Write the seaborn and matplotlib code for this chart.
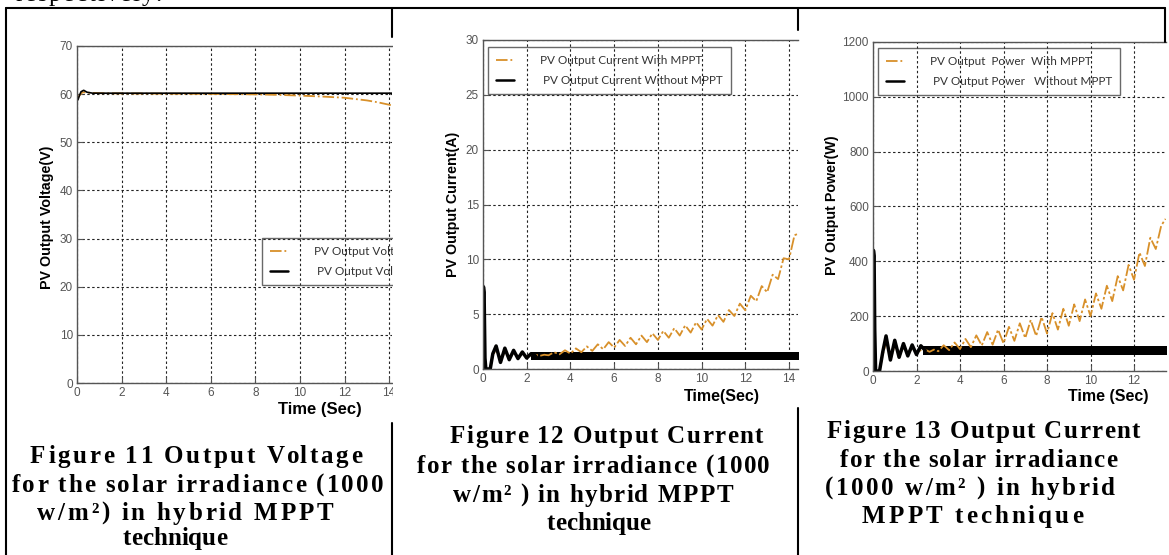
import matplotlib
matplotlib.use("Agg")
import matplotlib.pyplot as plt
import seaborn as sns
from matplotlib.lines import Line2D
from matplotlib.patches import Rectangle
from matplotlib.font_manager import FontProperties

W, H = 1169, 555
ORANGE = "#D8902A"
DASHDOT = (0, (7, 1.4, 1.4, 1.4))

# Figure 11 - PV output voltage (V)
volt_t_mppt = [0.0, 0.05, 0.12, 0.25, 0.5, 1.0, 2.0, 4.0, 6.0, 8.0, 9.0, 10.0, 11.0, 12.0, 13.0, 13.5, 14.0, 14.5]
volt_mppt = [59.0, 59.3, 59.8, 60.4, 60.3, 60.2, 60.15, 60.1, 60.05, 59.95, 59.85, 59.7, 59.5, 59.25, 58.7, 58.3, 57.8, 57.2]
volt_t_plain = [0.0, 0.05, 0.1, 0.18, 0.3, 0.45, 0.7, 1.5, 14.5]
volt_plain = [58.6, 58.9, 59.6, 60.5, 60.8, 60.4, 60.2, 60.2, 60.2]

# Figure 12 - PV output current (A)
cur_t_mppt = [0.0, 0.02, 0.07, 0.12, 0.33, 0.45, 0.62, 0.82, 1.02, 1.22, 1.42, 1.62, 1.82, 2.0, 2.3, 2.6, 2.8,
              3.0, 3.25, 3.5, 3.75, 4.0, 4.25, 4.5, 4.75, 5.0, 5.25, 5.5, 5.75, 6.0, 6.25, 6.5, 6.75,
              7.0, 7.25, 7.5, 7.75, 8.0, 8.25, 8.5, 8.75, 9.0, 9.25, 9.5, 9.75, 10.0, 10.25, 10.5, 10.75,
              11.0, 11.25, 11.5, 11.75, 12.0, 12.25, 12.5, 12.75, 13.0, 13.25, 13.5, 13.75, 14.0, 14.25, 14.5]
cur_mppt = [0.0, 5.3, 1.5, 0.0, 0.0, 1.2, 1.9, 0.7, 1.75, 0.9, 1.6, 1.0, 1.45, 1.1, 1.35, 1.2, 1.3,
            1.25, 1.53, 1.34, 1.71, 1.40, 1.88, 1.53, 2.06, 1.65, 2.25, 1.80, 2.45, 1.95, 2.65, 2.10, 2.85,
            2.25, 3.05, 2.45, 3.25, 2.65, 3.47, 2.85, 3.72, 3.05, 3.98, 3.32, 4.26, 3.60, 4.57, 3.95, 4.92,
            4.30, 5.38, 4.83, 5.96, 5.35, 6.68, 6.18, 7.56, 7.00, 8.60, 8.20, 10.1, 10.0, 12.2, 12.4]
cur_t_plain = [0.0, 0.02, 0.05, 0.09, 0.13, 0.33, 0.45, 0.6, 0.8, 1.0, 1.2, 1.4, 1.6, 1.8, 2.0, 2.2, 2.4]
cur_plain = [4.0, 7.5, 7.0, 1.0, 0.0, 0.0, 1.4, 2.1, 0.6, 1.9, 0.85, 1.7, 0.95, 1.55, 1.0, 1.4, 1.2]
cur_band_t = [2.2, 14.6]
cur_band_lo = [0.85, 0.85]
cur_band_hi = [1.55, 1.55]

# Figure 13 - PV output power (W)
pow_t_mppt = [0.0, 0.02, 0.06, 0.1, 0.3, 0.45, 0.62, 0.82, 1.02, 1.22, 1.42, 1.62, 1.82, 2.0, 2.3, 2.6, 2.8,
              3.0, 3.25, 3.5, 3.75, 4.0, 4.25, 4.5, 4.75, 5.0, 5.25, 5.5, 5.75, 6.0, 6.25, 6.5, 6.75,
              7.0, 7.25, 7.5, 7.75, 8.0, 8.25, 8.5, 8.75, 9.0, 9.25, 9.5, 9.75, 10.0, 10.25, 10.5, 10.75,
              11.0, 11.25, 11.5, 11.75, 12.0, 12.25, 12.5, 12.75, 13.0, 13.25, 13.45]
pow_mppt = [0, 320, 140, 0, 0, 60, 110, 45, 100, 55, 92, 60, 88, 65, 82, 70, 78,
            72, 94, 76, 104, 80, 117, 87, 130, 93, 142, 96, 151, 101, 161, 110, 174,
            120, 186, 128, 197, 137, 211, 151, 227, 165, 243, 182, 261, 200, 283, 227, 311,
            255, 346, 294, 387, 333, 432, 383, 486, 445, 530, 555]
pow_t_plain = [0.0, 0.02, 0.05, 0.08, 0.12, 0.3, 0.45, 0.6, 0.8, 1.0, 1.2, 1.4, 1.6, 1.8, 2.0, 2.2, 2.4]
pow_plain = [300, 440, 420, 150, 0, 0, 70, 128, 40, 112, 50, 100, 55, 95, 60, 92, 75]
pow_band_t = [2.3, 13.6]
pow_band_lo = [58, 58]
pow_band_hi = [92, 92]

# the first picture is cropped, so only the start of its legend labels shows
legend_volt = ["PV Output Volta", " PV Output Volta"]
legend_cur = ["PV Output Current With MPPT", " PV Output Current Without MPPT"]
legend_pow = ["PV Output  Power  With MPPT", " PV Output Power   Without MPPT"]

captions = [
    [("Figure 11 Output Voltage", 30, 362, 463),
     ("for the solar irradiance (1000", 12, 383, 492),
     ("w/m\u00b2) in hybrid MPPT", 37, 333, 520),
     ("technique", 123, 227, 545)],
    [("Figure 12 Output Current", 450, 763, 443),
     ("for the solar irradiance (1000", 417, 770, 473),
     ("w/m\u00b2 ) in hybrid MPPT", 453, 733, 502),
     ("technique", 547, 650, 530)],
    [("Figure 13 Output Current", 827, 1140, 438),
     ("for the solar irradiance", 840, 1117, 467),
     ("(1000 w/m\u00b2 ) in hybrid", 825, 1115, 495),
     ("MPPT technique", 862, 1083, 523)],
]

sns.set_theme(style="white")
plt.rcParams["font.family"] = ["Liberation Sans", "DejaVu Sans"]

fig = plt.figure(figsize=(W / 100, H / 100), dpi=100, facecolor="white")
renderer = fig.canvas.get_renderer()


def px_box(l, t, r, b):
    return [l / W, 1 - b / H, (r - l) / W, (b - t) / H]


def style_axes(ax, xmax, ymax, ystep, ylabel, xlabel, ylab_x, ylab_y, xlab_x, xlab_y, xlab_size):
    ax.set_xlim(0, xmax)
    ax.set_ylim(0, ymax)
    ax.set_xticks(range(0, int(xmax) + 1, 2))
    ax.set_yticks(range(0, ymax + 1, ystep))
    ax.grid(True, color="#222222", linestyle=(0, (2.2, 2.2)), linewidth=0.8)
    ax.set_axisbelow(True)
    ax.tick_params(direction="in", length=4, width=0.8, color="#555555", labelsize=8.5,
                   labelcolor="#555555", pad=3, bottom=True, left=True)
    for side in ["top", "left", "bottom"]:
        ax.spines[side].set_color("#555555")
        ax.spines[side].set_linewidth(1.0)
    ax.spines["right"].set_visible(False)
    ax.set_ylabel(ylabel, fontsize=10.3, fontweight="bold", color="black")
    ax.yaxis.label.set_va("center")
    ax.yaxis.set_label_coords(ylab_x, ylab_y)
    ax.set_xlabel(xlabel, fontsize=xlab_size, fontweight="bold", color="black")
    ax.xaxis.label.set_va("center")
    ax.xaxis.set_label_coords(xlab_x, xlab_y)


def add_legend(ax, labels, x, y):
    handles = [Line2D([], [], color=ORANGE, lw=1.3, linestyle="-."),
               Line2D([], [], color="black", lw=1.8)]
    leg = ax.legend(handles, labels, loc="upper left", bbox_to_anchor=(x / W, 1 - y / H),
                    bbox_transform=fig.transFigure, borderaxespad=0, frameon=True, fancybox=False,
                    edgecolor="#444444", prop=FontProperties(family="Lato", size=8.5),
                    labelcolor="#333333", handlelength=1.5, handletextpad=2.2,
                    labelspacing=0.75, borderpad=0.7)
    leg.get_frame().set_facecolor("none")
    leg.get_frame().set_linewidth(1.0)


def spaced_line(s, left, right, base, fp):
    ref = renderer.get_text_width_height_descent("x", fp, ismath=False)[0]
    adv = [renderer.get_text_width_height_descent(s[:i] + "x", fp, ismath=False)[0] - ref
           for i in range(len(s))]
    natural = renderer.get_text_width_height_descent(s, fp, ismath=False)[0]
    track = max((right - left - natural) / max(len(s) - 1, 1), 0)
    start = (left + right) / 2 - (natural + track * (len(s) - 1)) / 2
    for i, ch in enumerate(s):
        if ch == " ":
            continue
        fig.text((start + adv[i] + track * i) / W, 1 - base / H, ch, fontproperties=fp,
                 ha="left", va="baseline", color="black")


# Figure 11
ax1 = fig.add_axes(px_box(77, 46, 392, 383))
ax1.set_zorder(1)
sns.lineplot(x=volt_t_mppt, y=volt_mppt, ax=ax1, color=ORANGE, linewidth=1.3, linestyle="-.",
             estimator=None, sort=False)
sns.lineplot(x=volt_t_plain, y=volt_plain, ax=ax1, color="black", linewidth=1.2,
             estimator=None, sort=False)
style_axes(ax1, 14.13, 70, 10, "PV Output Voltage(V)", "Time (Sec)", -0.095, 0.493, 0.771, -0.080, 12)
ax1.set_xticks(range(0, 15, 2))
add_legend(ax1, legend_volt, 262, 238)

# white crop of the first picture
fig.add_artist(Rectangle((393 / W, 1 - 423 / H), (798 - 393) / W, (423 - 37) / H,
                         transform=fig.transFigure, facecolor="white", edgecolor="none", zorder=2))

# Figure 12
ax2 = fig.add_axes(px_box(483, 40, 798, 369))
ax2.set_zorder(3)
sns.lineplot(x=cur_t_mppt, y=cur_mppt, ax=ax2, color=ORANGE, linewidth=1.3, linestyle=DASHDOT,
             estimator=None, sort=False)
ax2.fill_between(cur_band_t, cur_band_lo, cur_band_hi, color="black", linewidth=0)
sns.lineplot(x=cur_t_plain, y=cur_plain, ax=ax2, color="black", linewidth=2.5,
             estimator=None, sort=False)
style_axes(ax2, 14.41, 30, 5, "PV Output Current(A)", "Time(Sec)", -0.095, 0.499, 0.759, -0.085, 11.5)
add_legend(ax2, legend_cur, 488, 47)

# Figure 13
ax3 = fig.add_axes(px_box(873, 42, 1166, 371))
ax3.set_zorder(4)
sns.lineplot(x=pow_t_mppt, y=pow_mppt, ax=ax3, color=ORANGE, linewidth=1.3, linestyle=DASHDOT,
             estimator=None, sort=False)
ax3.fill_between(pow_band_t, pow_band_lo, pow_band_hi, color="black", linewidth=0)
sns.lineplot(x=pow_t_plain, y=pow_plain, ax=ax3, color="black", linewidth=2.5,
             estimator=None, sort=False)
style_axes(ax3, 13.47, 1200, 200, "PV Output Power(W)", "Time (Sec)", -0.14, 0.505, 0.802, -0.079, 11.5)
add_legend(ax3, legend_pow, 878, 48)

# table borders
borders = [((6, 8), (1165, 8)), ((6, 8), (6, 555)),
           ((392, 8), (392, 37)), ((392, 423), (392, 555)),
           ((798, 8), (798, 30)), ((798, 408), (798, 555)),
           ((1165, 8), (1165, 42))]
for (x0, y0), (x1, y1) in borders:
    fig.add_artist(Line2D([x0 / W, x1 / W], [1 - y0 / H, 1 - y1 / H], transform=fig.transFigure,
                          color="black", linewidth=1.5, zorder=10))

# captions
cap_font = FontProperties(family="Liberation Serif", weight="bold", size=18)
for block in captions:
    for text, left, right, base in block:
        spaced_line(text, left, right, base, cap_font)

body_font = FontProperties(family="Liberation Serif", size=18)
spaced_line("respectively.", 15, 160, 1, body_font)

fig.savefig("out.png", dpi=100, facecolor="white")
